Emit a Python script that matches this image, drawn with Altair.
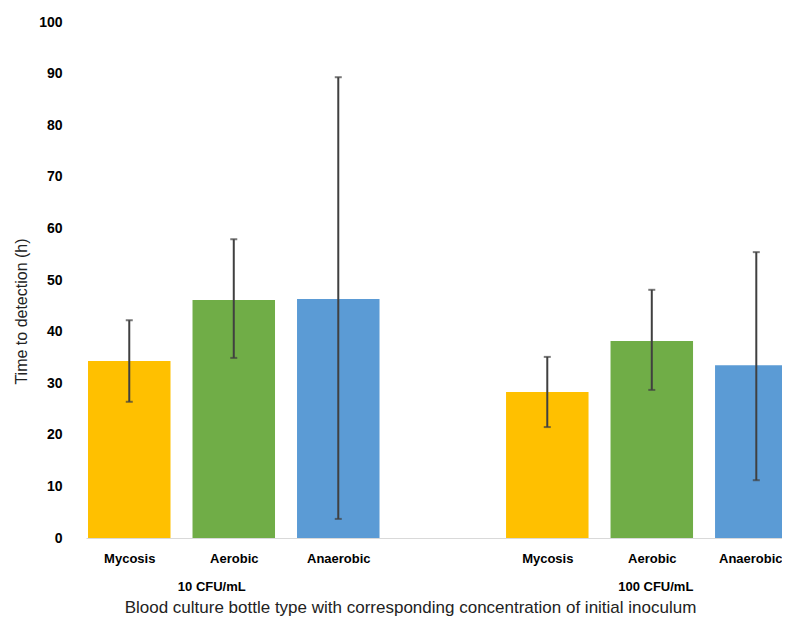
import json
import altair as alt
import pandas as pd

# ---- data ----
# slot order along the x axis (an empty slot separates the two inoculum groups)
slots = ["Mycosis|10", "Aerobic|10", "Anaerobic|10", "|gap",
         "Mycosis|100", "Aerobic|100", "Anaerobic|100"]
slot_labels = ["Mycosis", "Aerobic", "Anaerobic", "", "Mycosis", "Aerobic", "Anaerobic"]
bottle = ["Mycosis", "Aerobic", "Anaerobic", "Mycosis", "Aerobic", "Anaerobic"]
bar_slots = ["Mycosis|10", "Aerobic|10", "Anaerobic|10",
             "Mycosis|100", "Aerobic|100", "Anaerobic|100"]
mean_h = [34.3, 46.1, 46.3, 28.3, 38.2, 33.5]
err_low = [26.4, 34.9, 3.7, 21.5, 28.7, 11.2]
err_high = [42.2, 57.9, 89.3, 35.1, 48.1, 55.4]

groups = ["10 CFU/mL", "100 CFU/mL"]
group_slots = ["Aerobic|10", "Aerobic|100"]

colors = ["#FFC000", "#70AD47", "#5B9BD5"]
types = ["Mycosis", "Aerobic", "Anaerobic"]

df = pd.DataFrame({"slot": bar_slots, "bottle": bottle, "mean": mean_h,
                   "lo": err_low, "hi": err_high})
gdf = pd.DataFrame({"slot": group_slots, "group": groups})

FONT = "Liberation Sans"
slot_expr = "indexof(" + json.dumps(slots) + ", datum.slot)"
label_expr = json.dumps(slot_labels) + "[datum.value]"
last_slot = len(slots) - 1

# the reference is cropped on the right: the last bar runs past the edge
xscale = alt.Scale(domain=[-0.414, 6.246], nice=False, zero=False, padding=0)
yscale = alt.Scale(domain=[0, 100], nice=False)

x_axis = alt.Axis(
    title="Blood culture bottle type with corresponding concentration of initial inoculum",
    values=[0, 1, 2, 4, 5, 6], labelExpr=label_expr,
    labelAngle=0, labelFontWeight="bold", labelFontSize=13, labelFont=FONT,
    labelColor="#000000", labelPadding=14, ticks=False, grid=False,
    labelFlush=False, labelOverlap=False, labelBound=False,
    labelOffset={"condition": {"test": f"datum.value == {last_slot}", "value": -6}, "value": 0},
    domainColor="#D9D9D9", domainWidth=1,
    titleFont=FONT, titleFontSize=17, titleFontWeight="normal", titleColor="#222222",
    titleX=324, titleY=69, titleBaseline="middle", titleAnchor="middle", titleAlign="center")

y_axis = alt.Axis(
    title="Time to detection  (h)", values=list(range(0, 101, 10)),
    domain=False, ticks=False, grid=False,
    labelFontWeight="bold", labelFontSize=14, labelFont=FONT, labelColor="#000000",
    labelPadding=24,
    titleFont=FONT, titleFontSize=16, titleFontWeight="normal", titleColor="#222222",
    titleAngle=270, titleX=-65, titleY=289, titleBaseline="middle", titleAlign="center")

base = alt.Chart(df).transform_calculate(pos=slot_expr)

bars = base.mark_bar(size=82.5, clip=True).encode(
    x=alt.X("pos:Q", scale=xscale, axis=x_axis),
    y=alt.Y("mean:Q", scale=yscale, axis=y_axis),
    color=alt.Color("bottle:N", scale=alt.Scale(domain=types, range=colors), legend=None))

ecol = "#404040"
rules = base.mark_rule(color=ecol, strokeWidth=2, clip=True).encode(
    x=alt.X("pos:Q", scale=xscale),
    y=alt.Y("lo:Q", scale=yscale), y2="hi:Q")
cap_lo = base.mark_tick(color=ecol, orient="horizontal", size=7, thickness=2, clip=True).encode(
    x=alt.X("pos:Q", scale=xscale), y=alt.Y("lo:Q", scale=yscale))
cap_hi = base.mark_tick(color=ecol, orient="horizontal", size=7, thickness=2, clip=True).encode(
    x=alt.X("pos:Q", scale=xscale), y=alt.Y("hi:Q", scale=yscale))

gbase = alt.Chart(gdf).transform_calculate(pos=slot_expr)
g1 = gbase.transform_filter(alt.datum.group == groups[0]).mark_text(
    font=FONT, fontSize=13, fontWeight="bold", color="#000000", dx=-22, baseline="middle"
).encode(x=alt.X("pos:Q", scale=xscale), y=alt.value(565), text="group:N")
g2 = gbase.transform_filter(alt.datum.group == groups[1]).mark_text(
    font=FONT, fontSize=13, fontWeight="bold", color="#000000", dx=4, baseline="middle"
).encode(x=alt.X("pos:Q", scale=xscale), y=alt.value(565), text="group:N")

chart = alt.layer(bars, rules, cap_lo, cap_hi, g1, g2).properties(
    width=696, height=516,
    autosize=alt.AutoSizeParams(type="none"),
    padding={"left": 78, "top": 14, "right": 0, "bottom": 79},
    background="white",
).configure_view(stroke=None)

chart.save("out.html", embed_options={"renderer": "svg", "actions": False})
